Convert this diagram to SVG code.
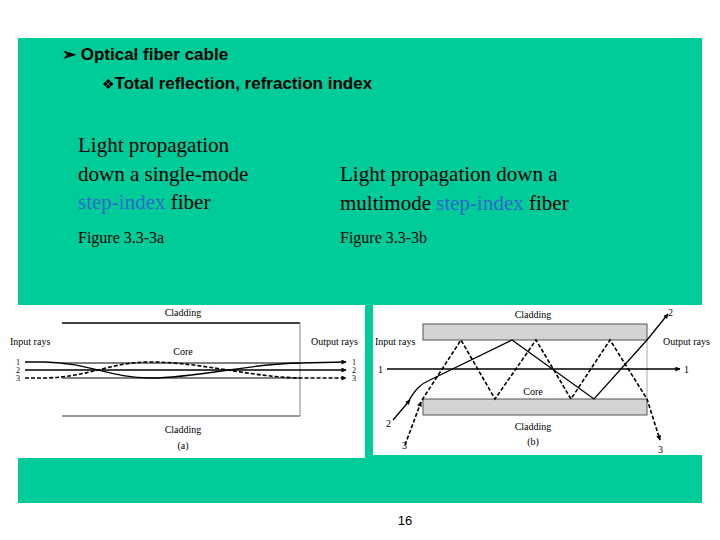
<svg xmlns="http://www.w3.org/2000/svg" width="720" height="540" viewBox="0 0 720 540">
<defs>
<style>
text{font-variant-ligatures:none}
.h{font-family:"Liberation Sans",Arial,sans-serif;font-weight:bold;font-size:17px;fill:#000}
.t{font-family:"Liberation Serif","Times New Roman",serif;font-size:21px;fill:#000}
.f{font-family:"Liberation Serif","Times New Roman",serif;font-size:16px;fill:#000}
.b{fill:#3366CC}
.s{font-family:"Liberation Serif","Times New Roman",serif;font-size:10px;fill:#000}
.n{font-family:"Liberation Serif","Times New Roman",serif;font-size:8px;fill:#000}
.ln{stroke:#000;stroke-width:1.3;fill:none}
.dl{stroke:#000;stroke-width:1.6;fill:none;stroke-dasharray:4,2}
</style>
<marker id="a" viewBox="0 0 10 10" refX="9" refY="5" markerWidth="7" markerHeight="5" orient="auto" markerUnits="userSpaceOnUse"><path d="M0,0 L10,5 L0,10 z" fill="#000"/></marker>
</defs>
<rect width="720" height="540" fill="#fff"/>
<rect x="18" y="38" width="684" height="465" fill="#00CC99"/>
<g id="title">
<text class="h" x="62" y="60">➢ Optical fiber cable</text>
<text class="h" x="102" y="89"><tspan font-family="DejaVu Sans,sans-serif" font-size="14">❖</tspan>Total reflection, refraction index</text>
</g>
<g id="captions">
<text class="t" x="78" y="152">Light propagation</text>
<text class="t" x="78" y="181">down a single-mode</text>
<text class="t" x="78" y="209"><tspan class="b">step-index</tspan> <tspan>f</tspan><tspan>iber</tspan></text>
<text class="t" x="340" y="181">Light propagation down a</text>
<text class="t" x="340" y="210">multimode <tspan class="b">step-index</tspan> <tspan>f</tspan><tspan>iber</tspan></text>
<text class="f" x="78" y="243">Figure 3.3-3a</text>
<text class="f" x="340" y="243">Figure 3.3-3b</text>
</g>
<g id="figA">
<rect x="8" y="305" width="357" height="153" fill="#fff"/>
<line class="ln" x1="62" y1="323" x2="300" y2="323"/>
<line x1="300" y1="323" x2="300" y2="416" stroke="#888" stroke-width="1"/>
<line x1="62" y1="416" x2="300" y2="416" stroke="#777" stroke-width="1.5"/>
<line x1="62" y1="363" x2="300" y2="363" stroke="#000" stroke-width="1"/>
<line x1="62" y1="378" x2="300" y2="378" stroke="#000" stroke-width="1"/>
<text class="s" x="183" y="316" text-anchor="middle">Cladding</text>
<text class="s" x="183" y="433" text-anchor="middle">Cladding</text>
<text class="s" x="183" y="449" text-anchor="middle">(a)</text>
<text class="s" x="183" y="355" text-anchor="middle">Core</text>
<text class="s" x="10" y="345">Input rays</text>
<text class="s" x="311" y="345">Output rays</text>
<text class="n" x="16" y="365">1</text><text class="n" x="16" y="373">2</text><text class="n" x="16" y="381">3</text>
<text class="n" x="352" y="365">1</text><text class="n" x="352" y="373">2</text><text class="n" x="352" y="381">3</text>
</g>
<g id="figB">
<rect x="373" y="305" width="339" height="150" fill="#fff"/>
<rect x="423" y="324" width="224" height="16" fill="#d4d4d4" stroke="#555" stroke-width="1"/>
<rect x="423" y="399" width="224" height="16" fill="#d4d4d4" stroke="#555" stroke-width="1"/>
<line x1="647" y1="340" x2="647" y2="399" stroke="#aaa" stroke-width="1"/>
<text class="s" x="533" y="318" text-anchor="middle">Cladding</text>
<text class="s" x="533" y="430" text-anchor="middle">Cladding</text>
<text class="s" x="533" y="445" text-anchor="middle">(b)</text>
<text class="s" x="533" y="395" text-anchor="middle">Core</text>
<text class="s" x="375" y="345">Input rays</text>
<text class="s" x="663" y="345">Output rays</text>
<text class="s" x="378" y="373">1</text><text class="s" x="684" y="373">1</text>
<text class="s" x="386" y="427">2</text><text class="s" x="668" y="316">2</text>
<text class="s" x="402" y="449">3</text><text class="s" x="658" y="453">3</text>
</g>
<g id="connectors">
<line class="ln" x1="25" y1="370" x2="346" y2="370" stroke-width="2" marker-end="url(#a)"/>
<path class="ln" d="M25,362 L45,362 C90,363 110,378 150,378 C200,378 250,363 300,363 L346,362" marker-end="url(#a)"/>
<path class="dl" d="M25,378 L45,378 C90,377 110,362 150,362 C200,362 250,377 300,378 L346,378" marker-end="url(#a)"/>
<line class="ln" x1="387" y1="369" x2="680" y2="369" stroke-width="2" marker-end="url(#a)"/>
<path class="dl" d="M422,400 L461,340 L495,399 L536,340 L571,399 L610,340 L647,399 L660,440" marker-end="url(#a)"/>
<path class="dl" d="M405,445 L421,402" marker-end="url(#a)"/>
<path class="ln" d="M408,402 C415,390 420,384 430,380 L512,340 L594,399 L647,340 L668,314" marker-end="url(#a)"/>
<path class="ln" d="M393,420 L410,400" marker-end="url(#a)"/>
</g>
<text x="405" y="525" font-family="Liberation Sans,Arial,sans-serif" font-size="13" text-anchor="middle">16</text>
</svg>
